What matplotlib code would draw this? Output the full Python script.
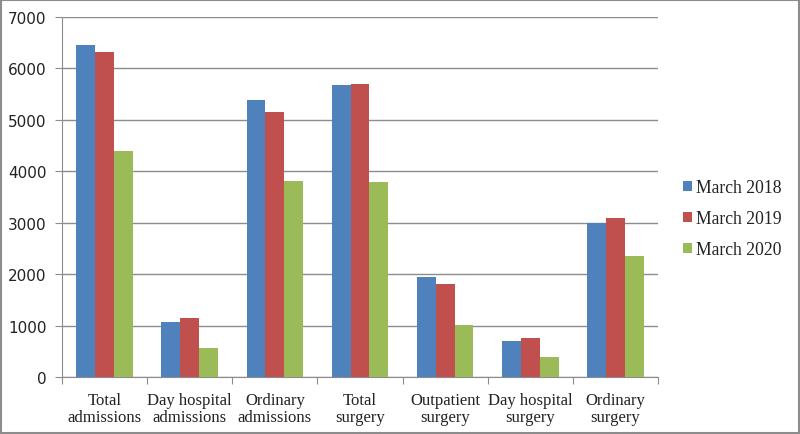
import matplotlib.pyplot as plt
import numpy as np
from matplotlib.patches import Rectangle

categories = ["Total\nadmissions", "Day hospital\nadmissions", "Ordinary\nadmissions",
              "Total\nsurgery", "Outpatient\nsurgery", "Day hospital\nsurgery", "Ordinary\nsurgery"]
march_2018 = [6460, 1070, 5380, 5670, 1940, 700, 3000]
march_2019 = [6320, 1150, 5150, 5690, 1800, 760, 3100]
march_2020 = [4390, 560, 3810, 3790, 1020, 395, 2350]
series_names = ["March 2018", "March 2019", "March 2020"]
colors = ["#4F81BD", "#C0504D", "#9BBB59"]

fig = plt.figure(figsize=(8, 4.35), dpi=100)
ax = fig.add_axes([0.0775, 0.131, 0.745, 0.828])

x = np.arange(len(categories))
w = 0.222
for i, (vals, name, c) in enumerate(zip([march_2018, march_2019, march_2020], series_names, colors)):
    ax.bar(x + (i - 1) * w, vals, width=w, color=c, label=name, zorder=3)

ax.set_xlim(-0.5, len(categories) - 0.5)
ax.set_ylim(0, 7000)
ax.set_yticks(range(0, 7001, 1000))
ax.yaxis.grid(True, color="#8c8c8c", linewidth=1)
ax.set_axisbelow(True)

# category labels centred, ticks on the boundaries
ax.set_xticks(np.arange(-0.5, len(categories), 1))
ax.set_xticklabels([])
ax.set_xticks(x, minor=True)
ax.set_xticklabels(categories, minor=True, family="Liberation Serif", fontsize=12,
                   linespacing=1.05, color="#222222")
ax.tick_params(axis="x", which="minor", length=0, pad=11)
ax.tick_params(axis="x", which="major", length=5, color="#8c8c8c", direction="out")
ax.tick_params(axis="y", length=5, color="#8c8c8c", labelsize=11, pad=6, labelcolor="#222222")
for lab in ax.get_yticklabels():
    lab.set_family("DejaVu Sans")

for s in ["top", "right"]:
    ax.spines[s].set_visible(False)
for s in ["left", "bottom"]:
    ax.spines[s].set_color("#8c8c8c")

leg = ax.legend(loc="center left", bbox_to_anchor=(1.015, 0.44), frameon=False,
                handlelength=0.5, handleheight=0.5, handletextpad=0.25, labelspacing=0.8,
                prop={"family": "Liberation Serif", "size": 12.7})
for t in leg.get_texts():
    t.set_color("#222222")

fig.patches.append(Rectangle((0.001, 0.002), 0.998, 0.996, transform=fig.transFigure,
                             fill=False, edgecolor="#8c8c8c", linewidth=1.5))

fig.savefig("out.png", dpi=100)
